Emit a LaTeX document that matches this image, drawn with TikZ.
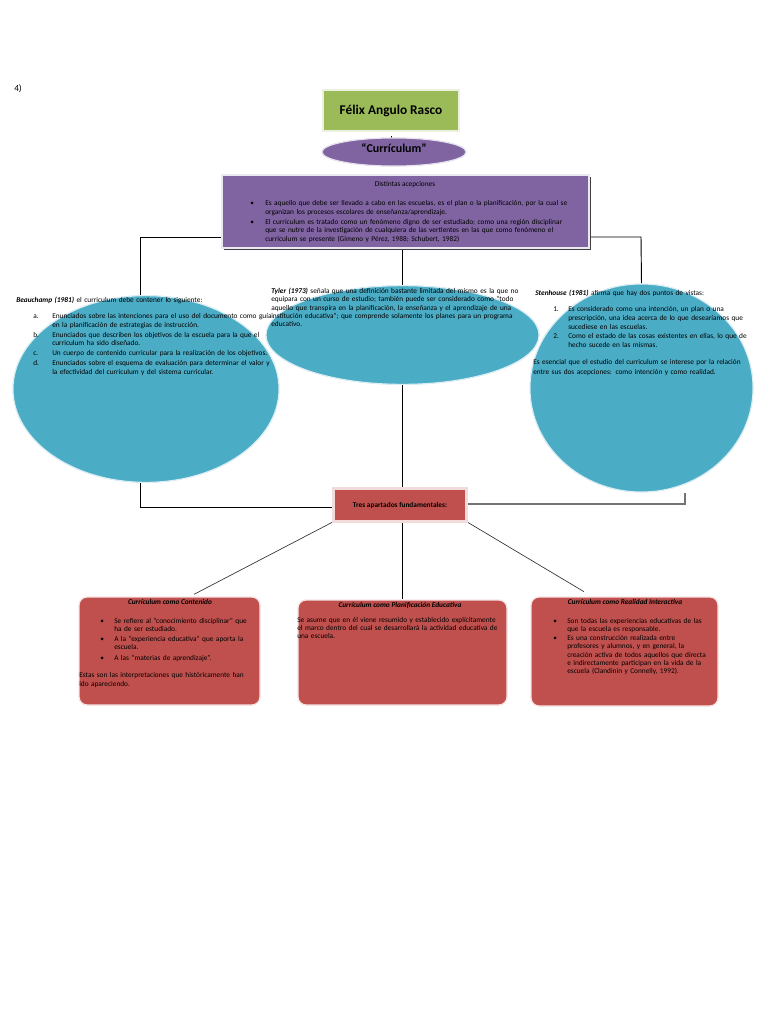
\documentclass[tikz,border=0pt]{standalone}
\usepackage{fontspec}
\setmainfont{Carlito}
\usetikzlibrary{shapes.geometric}
\definecolor{grnc}{HTML}{9BBB59}
\definecolor{purc}{HTML}{8064A2}
\definecolor{tealc}{HTML}{4BACC6}
\definecolor{redc}{HTML}{C0504D}
\definecolor{pinkb}{HTML}{F2DCDB}
\newcommand\sm{\fontsize{5.5}{6.4}\selectfont}
\newcommand\itm[2]{\makebox[#1][l]{#2}}
\newcommand\ind[1]{\hspace*{#1}}
\newcommand\bi[1]{\textbf{\textit{#1}}}
\tikzset{
  txt/.style={inner sep=0pt, anchor=base west, align=left, font=\sm, text width=#1},
  ctxt/.style={inner sep=0pt, anchor=base, font=\sm},
  ell/.style={ellipse, fill=tealc, draw=white!80!tealc, line width=0.8pt, inner sep=0pt},
  rbox/.style={rectangle, rounded corners=6pt, fill=redc, draw=white!85!redc, line width=1pt, inner sep=0pt},
  conn/.style={draw=black, line width=0.7pt},
  thinconn/.style={draw=black!80, line width=0.5pt}
}
\begin{document}
\begin{tikzpicture}[x=0.75pt,y=-0.75pt]
\useasboundingbox (0,0) rectangle (768,1024);
\fill[white] (0,0) rectangle (768,1024);

% ---------- node frames (positions) ----------
\path
  node[rectangle, fill=grnc, draw=white!80!grnc, line width=1pt, minimum width=102pt, minimum height=30.75pt, inner sep=0pt] (autor) at (391,110.5) {}
  node[ellipse, fill=purc, draw=white!80!purc, line width=0.8pt, minimum width=108pt, minimum height=21pt, inner sep=0pt] (curr) at (394,152) {}
  node[rectangle, minimum width=275.25pt, minimum height=54.75pt, inner sep=0pt] (acep) at (405.5,211.5) {}
  node[ell, minimum width=199.5pt, minimum height=140pt] (beau) at (146,389) {}
  node[ell, minimum width=204.75pt, minimum height=74pt] (tyler) at (402.5,335) {}
  node[ell, minimum width=167.25pt, minimum height=156pt] (sten) at (641.5,388) {}
  node[rectangle, minimum width=99.75pt, minimum height=24.75pt, inner sep=0pt] (tres) at (400,505) {}
  node[rbox, minimum width=135.75pt, minimum height=81pt] (cont) at (169.5,651) {}
  node[rbox, minimum width=156.75pt, minimum height=78.75pt] (plan) at (402.5,652.5) {}
  node[rbox, minimum width=140.25pt, minimum height=81.75pt] (real) at (624.5,651.5) {};

% ---------- connectors ----------
\coordinate (lk) at (140,237);
\coordinate (rk) at (641,237);
\coordinate (lb) at (140,507);
\coordinate (rb) at (685,504);
\draw[conn] (acep.west |- lk) -- (lk) -- (lk |- beau.north);
\draw[conn] (acep.east |- rk) -- (rk) -- (sten.north);
\draw[conn] (tyler.north |- acep.south) -- (tyler.north);
\draw[conn] (tyler.south) -- (tyler.south |- tres.north);
\draw[conn] (tres.west |- lb) -- (lb) -- (beau.south -| lb);
\draw[draw=black!55, line width=1.3pt] (tres.east |- rb) -- (rb) -- (sten.south -| rb);
\draw[thinconn] (tres.south west) -- ([xshift=18.4pt,yshift=1.5pt]cont.north);
\draw[conn] (plan.north |- tres.south) -- (plan.north);
\draw[thinconn] (tres.south east) -- ([xshift=-30.4pt,yshift=3.5pt]real.north);
\draw[line width=0.7pt] ([yshift=-3.6pt]autor.south) -- ([yshift=-4.8pt]autor.south);
\draw[line width=0.7pt] ([xshift=-13.9pt,yshift=1.6pt]curr.south) -- ([xshift=-13.9pt,yshift=0.6pt]curr.south);

% ---------- shapes redrawn on top ----------
\node[rectangle, fill=grnc, draw=white!80!grnc, line width=1pt, minimum width=102pt, minimum height=30.75pt, inner sep=0pt, font=\fontsize{10}{12}\selectfont\bfseries] (autorT) at (autor) {Félix Angulo Rasco};
\node[ellipse, fill=purc, draw=white!80!purc, line width=0.8pt, minimum width=108pt, minimum height=21pt, inner sep=0pt] (currE) at (curr) {};
\node[inner sep=0pt, font=\fontsize{9}{11}\selectfont\bfseries] (currT) at (394,148) {“Currículum”};

\fill[black!75] ([xshift=1.5pt,yshift=-1.5pt]acep.south west) rectangle ([xshift=1.5pt,yshift=-1.5pt]acep.north east);
\node[rectangle, fill=purc, draw=white!85!purc, line width=1pt, minimum width=275.25pt, minimum height=54.75pt, inner sep=0pt] (acepB) at (acep) {};
\node[ctxt] (acepT) at (405,186) {Distintas acepciones};
\node[txt=260pt] (acepL) at (250,205.5) {%
\itm{11.25pt}{•}Es aquello que debe ser llevado a cabo en las escuelas, es el plan o la planificación, por la cual se\\
\ind{11.25pt}organizan los procesos escolares de enseñanza/aprendizaje.\\[1.3pt]
\itm{11.25pt}{•}El curriculum es tratado como un fenómeno digno de ser estudiado; como una región disciplinar\\
\ind{11.25pt}que se nutre de la investigación de cualquiera de las vertientes en las que como fenómeno el\\
\ind{11.25pt}curriculum se presente (Gimeno y Pérez, 1988; Schubert, 1982)};

\node[ell, minimum width=199.5pt, minimum height=140pt] (beauE) at (beau) {};
\node[txt=200pt] (beauH) at (16,302.5) {\bi{Beauchamp (1981)} el curriculum debe contener lo siguiente:};
\node[txt=200pt] (beauL) at (33,318.5) {%
\itm{14.25pt}{a.}Enunciados sobre las intenciones para el uso del documento como guía\\
\ind{14.25pt}en la planificación de estrategias de instrucción.\\[1.1pt]
\itm{14.25pt}{b.}Enunciados que describen los objetivos de la escuela para la que el\\
\ind{14.25pt}curriculum ha sido diseñado.\\[1.1pt]
\itm{14.25pt}{c.}Un cuerpo de contenido curricular para la realización de los objetivos.\\[1.1pt]
\itm{14.25pt}{d.}Enunciados sobre el esquema de evaluación para determinar el valor y\\
\ind{14.25pt}la efectividad del curriculum y del sistema curricular.};

\node[ell, minimum width=204.75pt, minimum height=74pt] (tylerE) at (tyler) {};
\node[txt=200pt, font=\fontsize{5.5}{6.25}\selectfont] (tylerT) at (271,293.5) {%
\bi{Tyler (1973)} señala que una definición bastante limitada del mismo es la que no\\
equipara con un curso de estudio; también puede ser considerado como “todo\\
aquello que transpira en la planificación, la enseñanza y el aprendizaje de una\\
institución educativa”; que comprende solamente los planes para un programa\\
educativo.};

\node[ell, minimum width=167.25pt, minimum height=156pt] (stenE) at (sten) {};
\node[txt=180pt] (stenH) at (535,295) {\bi{Stenhouse (1981)} afirma que hay dos puntos de vistas:};
\node[txt=170pt, font=\fontsize{5.5}{6.8}\selectfont] (stenL) at (553,311) {%
\itm{11.25pt}{1.}Es considerado como una intención, un plan o una\\
\ind{11.25pt}prescripción, una idea acerca de lo que desearíamos que\\
\ind{11.25pt}sucediese en las escuelas.\\[0.5pt]
\itm{11.25pt}{2.}Como el estado de las cosas existentes en ellas, lo que de\\
\ind{11.25pt}hecho sucede en las mismas.};
\node[txt=180pt, font=\fontsize{5.5}{7.2}\selectfont] (stenP) at (533,364.5) {%
Es esencial que el estudio del curriculum se interese por la relación\\
entre sus dos acepciones: como intención y como realidad.};

\fill[black!45] ([xshift=1.2pt,yshift=-1.2pt]tres.south west) rectangle ([xshift=1.2pt,yshift=-1.2pt]tres.north east);
\node[rectangle, fill=redc, draw=pinkb, line width=1.8pt, minimum width=99.75pt, minimum height=24.75pt, inner sep=0pt] (tresB) at (tres) {};
\node[inner sep=0pt, font=\sm\bfseries] (tresT) at (400,505.5) {Tres apartados fundamentales:};

\node[ctxt, font=\sm\bfseries\itshape] (contH) at (170,604) {Currículum como Contenido};
\node[txt=140pt, font=\fontsize{5.5}{6.1}\selectfont] (contL) at (100,623) {%
\itm{10.5pt}{•}Se refiere al “conocimiento disciplinar” que\\
\ind{10.5pt}ha de ser estudiado.\\[1.5pt]
\itm{10.5pt}{•}A la “experiencia educativa” que aporta la\\
\ind{10.5pt}escuela.\\[2pt]
\itm{10.5pt}{•}A las “materias de aprendizaje”.};
\node[txt=140pt, font=\fontsize{5.5}{7}\selectfont] (contP) at (79,677.3) {%
Estas son las interpretaciones que históricamente han\\
ido apareciendo.};

\node[ctxt, font=\sm\bfseries\itshape] (planH) at (400,607) {Currículum como Planificación Educativa};
\node[txt=160pt, font=\fontsize{5.5}{6.25}\selectfont] (planP) at (297,622) {%
Se asume que en él viene resumido y establecido explícitamente\\
el marco dentro del cual se desarrollará la actividad educativa de\\
una escuela.};

\node[ctxt, font=\sm\bfseries\itshape] (realH) at (625,604) {Currículum como Realidad Interactiva};
\node[txt=140pt, font=\fontsize{5.5}{6.25}\selectfont] (realL) at (553,623) {%
\itm{10.5pt}{•}Son todas las experiencias educativas de las\\
\ind{10.5pt}que la escuela es responsable.\\[0.6pt]
\itm{10.5pt}{•}Es una construcción realizada entre\\
\ind{10.5pt}profesores y alumnos, y en general, la\\
\ind{10.5pt}creación activa de todos aquellos que directa\\
\ind{10.5pt}e indirectamente participan en la vida de la\\
\ind{10.5pt}escuela (Clandinin y Connelly, 1992).};

\node[inner sep=0pt, anchor=base west, font=\fontsize{7}{8}\selectfont] (num) at (14,91) {4)};
\end{tikzpicture}
\end{document}
